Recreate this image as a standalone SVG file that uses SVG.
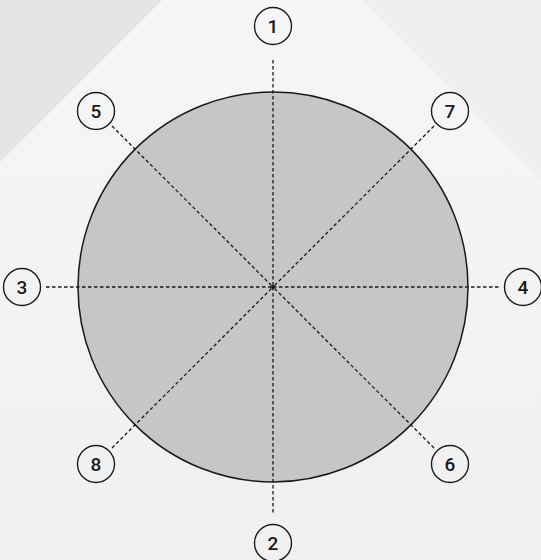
<svg xmlns="http://www.w3.org/2000/svg" width="541" height="560" viewBox="0 0 541 560">
<defs>
<linearGradient id="bg" x1="0" y1="0" x2="1" y2="0">
<stop offset="0" stop-color="#efefef"/>
<stop offset="1" stop-color="#f3f3f3"/>
</linearGradient>
<linearGradient id="house" x1="0" y1="0" x2="0" y2="1">
<stop offset="0" stop-color="#f6f6f6"/>
<stop offset="1" stop-color="#f0f0f0"/>
</linearGradient>
<style>
.lbl circle{fill:none;stroke:#1a1a1a;stroke-width:1.4}
.lbl text{font-family:Roboto,"Liberation Sans",sans-serif;font-size:19px;font-weight:500;fill:#1a1a1a;text-anchor:middle}
.dash{stroke:#1a1a1a;stroke-width:1.3;stroke-dasharray:3.5 2.5;fill:none}
</style>
</defs>
<rect width="541" height="560" fill="url(#bg)"/>
<polygon points="162,0 362,0 541,179 541,560 0,560 0,162" fill="url(#house)"/>
<polygon points="0,0 162,0 0,162" fill="#e4e4e4"/>
<polygon points="362,0 541,0 541,179" fill="#efefef"/>
<g id="disc">
<circle cx="273" cy="287" r="195" fill="#c6c6c6" stroke="#1a1a1a" stroke-width="1.5"/>
</g>
<g id="connectors">
<line class="dash" x1="273" y1="60" x2="273" y2="287"/>
<line class="dash" x1="273" y1="287" x2="273" y2="515"/>
<line class="dash" x1="46" y1="287" x2="273" y2="287"/>
<line class="dash" x1="273" y1="287" x2="501" y2="287"/>
<line class="dash" x1="112" y1="126" x2="273" y2="287"/>
<line class="dash" x1="434" y1="126" x2="273" y2="287"/>
<line class="dash" x1="112" y1="448" x2="273" y2="287"/>
<line class="dash" x1="434" y1="448" x2="273" y2="287"/>
<circle cx="273" cy="287" r="2" fill="#1a1a1a"/>
</g>
<g id="n1" class="lbl"><circle cx="273" cy="26" r="18.5"/><text x="273" y="32.8">1</text></g>
<g id="n2" class="lbl"><circle cx="273" cy="543" r="18.5"/><text x="273" y="549.8">2</text></g>
<g id="n3" class="lbl"><circle cx="22" cy="287" r="18.5"/><text x="22" y="293.8">3</text></g>
<g id="n4" class="lbl"><circle cx="523" cy="287" r="18.5"/><text x="523" y="293.8">4</text></g>
<g id="n5" class="lbl"><circle cx="96" cy="111" r="18.5"/><text x="96" y="117.8">5</text></g>
<g id="n6" class="lbl"><circle cx="450" cy="464" r="18.5"/><text x="450" y="470.8">6</text></g>
<g id="n7" class="lbl"><circle cx="450" cy="111" r="18.5"/><text x="450" y="117.8">7</text></g>
<g id="n8" class="lbl"><circle cx="96" cy="464" r="18.5"/><text x="96" y="470.8">8</text></g>
</svg>
